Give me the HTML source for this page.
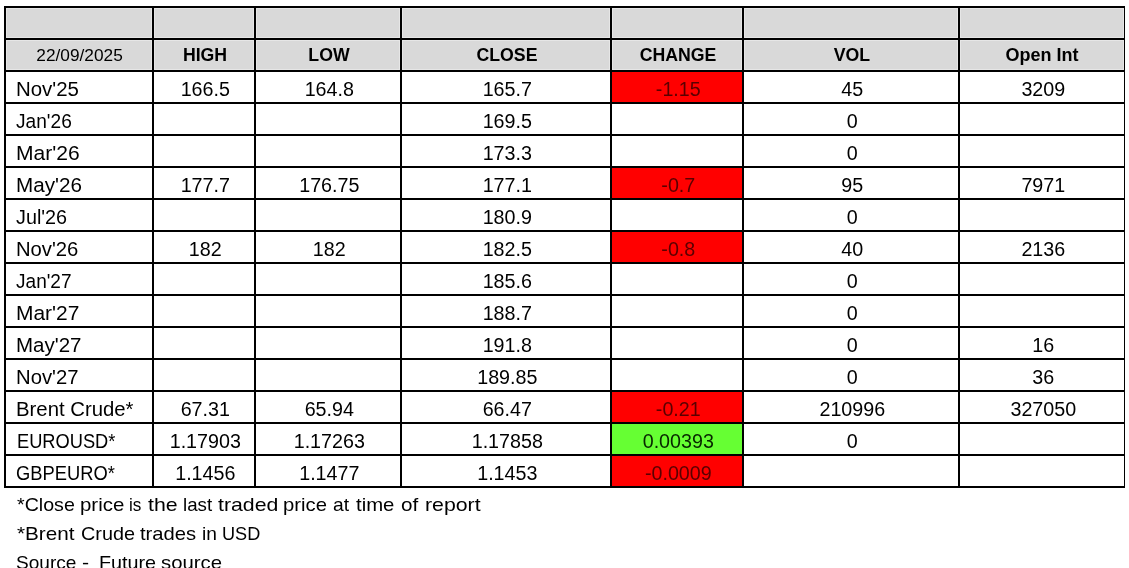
<!DOCTYPE html>
<html><head><meta charset="utf-8"><title>Prices</title>
<style>
html,body{margin:0;padding:0;background:#fff;}
body{width:1129px;height:568px;position:relative;overflow:hidden;will-change:transform;font-family:"Liberation Sans",sans-serif;color:#000;}
.l{position:absolute;background:#000;}
.g{position:absolute;background:#d9d9d9;}
.f{position:absolute;}
.c{position:absolute;height:30px;line-height:30px;text-align:center;white-space:nowrap;font-size:19.7px;}
.c span{display:inline-block;position:relative;}
.k{text-align:left;}
.h{font-weight:bold;font-size:17.7px;}
.n{position:absolute;left:0;white-space:nowrap;font-size:19px;font-kerning:none;line-height:29px;height:29px;}
.n span{position:absolute;top:0;display:block;transform-origin:0 50%;}
</style></head><body>
<div class="g" style="left:4px;top:6px;width:1121px;height:66px"></div>
<div class="f" style="left:6px;top:8px;width:1118px;height:1px;background:#e6e6e6"></div>
<div class="f" style="left:6px;top:37px;width:1118px;height:4px;background:#e6e6e6"></div>
<div class="f" style="left:6px;top:69px;width:1118px;height:1px;background:#e6e6e6"></div>
<div class="f" style="left:6px;top:8px;width:1px;height:62px;background:#e6e6e6"></div>
<div class="f" style="left:151px;top:8px;width:4px;height:62px;background:#e6e6e6"></div>
<div class="f" style="left:253px;top:8px;width:4px;height:62px;background:#e6e6e6"></div>
<div class="f" style="left:399px;top:8px;width:4px;height:62px;background:#e6e6e6"></div>
<div class="f" style="left:609px;top:8px;width:4px;height:62px;background:#e6e6e6"></div>
<div class="f" style="left:741px;top:8px;width:4px;height:62px;background:#e6e6e6"></div>
<div class="f" style="left:957px;top:8px;width:4px;height:62px;background:#e6e6e6"></div>
<div class="f" style="left:1123px;top:8px;width:1px;height:62px;background:#e6e6e6"></div>
<div class="f" style="left:612px;top:72px;width:130px;height:30px;background:#ff0000"></div>
<div class="f" style="left:612px;top:168px;width:130px;height:30px;background:#ff0000"></div>
<div class="f" style="left:612px;top:232px;width:130px;height:30px;background:#ff0000"></div>
<div class="f" style="left:612px;top:392px;width:130px;height:30px;background:#ff0000"></div>
<div class="f" style="left:612px;top:424px;width:130px;height:30px;background:#66ff33"></div>
<div class="f" style="left:612px;top:456px;width:130px;height:30px;background:#ff0000"></div>
<div class="l" style="left:4px;top:6px;width:1121px;height:2px"></div>
<div class="l" style="left:4px;top:38px;width:1121px;height:2px"></div>
<div class="l" style="left:4px;top:70px;width:1121px;height:2px"></div>
<div class="l" style="left:4px;top:102px;width:1121px;height:2px"></div>
<div class="l" style="left:4px;top:134px;width:1121px;height:2px"></div>
<div class="l" style="left:4px;top:166px;width:1121px;height:2px"></div>
<div class="l" style="left:4px;top:198px;width:1121px;height:2px"></div>
<div class="l" style="left:4px;top:230px;width:1121px;height:2px"></div>
<div class="l" style="left:4px;top:262px;width:1121px;height:2px"></div>
<div class="l" style="left:4px;top:294px;width:1121px;height:2px"></div>
<div class="l" style="left:4px;top:326px;width:1121px;height:2px"></div>
<div class="l" style="left:4px;top:358px;width:1121px;height:2px"></div>
<div class="l" style="left:4px;top:390px;width:1121px;height:2px"></div>
<div class="l" style="left:4px;top:422px;width:1121px;height:2px"></div>
<div class="l" style="left:4px;top:454px;width:1121px;height:2px"></div>
<div class="l" style="left:4px;top:486px;width:1121px;height:2px"></div>
<div class="l" style="left:4px;top:6px;width:2px;height:482px"></div>
<div class="l" style="left:152px;top:6px;width:2px;height:482px"></div>
<div class="l" style="left:254px;top:6px;width:2px;height:482px"></div>
<div class="l" style="left:400px;top:6px;width:2px;height:482px"></div>
<div class="l" style="left:610px;top:6px;width:2px;height:482px"></div>
<div class="l" style="left:742px;top:6px;width:2px;height:482px"></div>
<div class="l" style="left:958px;top:6px;width:2px;height:482px"></div>
<div class="l" style="left:1124px;top:6px;width:1px;height:482px"></div>
<div class="c" style="left:6px;top:40px;width:146px;font-size:15.8px;"><span style="left:0.5px;top:1px;transform:scaleX(1.094);">22/09/2025</span></div>
<div class="c h" style="left:154px;top:40px;width:100px;"><span style="left:1px;top:0px;">HIGH</span></div>
<div class="c h" style="left:256px;top:40px;width:144px;"><span style="left:1px;top:0px;">LOW</span></div>
<div class="c h" style="left:402px;top:40px;width:208px;"><span style="left:1px;top:0px;">CLOSE</span></div>
<div class="c h" style="left:612px;top:40px;width:130px;"><span style="left:1px;top:0px;">CHANGE</span></div>
<div class="c h" style="left:744px;top:40px;width:214px;"><span style="left:1px;top:0px;">VOL</span></div>
<div class="c h" style="left:960px;top:40px;width:164px;font-size:18px;"><span style="left:0px;top:0px;">Open Int</span></div>
<div class="c k" style="left:6px;top:72px;width:146px;"><span style="left:10px;top:2px;transform-origin:0 50%;transform:scaleX(1.038);">Nov&#39;25</span></div>
<div class="c" style="left:154px;top:72px;width:100px;"><span style="left:1.3px;top:2px;">166.5</span></div>
<div class="c" style="left:256px;top:72px;width:144px;"><span style="left:1.3px;top:2px;">164.8</span></div>
<div class="c" style="left:402px;top:72px;width:208px;"><span style="left:1.3px;top:2px;">165.7</span></div>
<div class="c" style="left:612px;top:72px;width:130px;color:#5a0000;"><span style="left:1.3px;top:2px;">-1.15</span></div>
<div class="c" style="left:744px;top:72px;width:214px;"><span style="left:1.3px;top:2px;">45</span></div>
<div class="c" style="left:960px;top:72px;width:164px;"><span style="left:1.3px;top:2px;">3209</span></div>
<div class="c k" style="left:6px;top:104px;width:146px;"><span style="left:9.5px;top:2px;transform-origin:0 50%;transform:scaleX(0.972);">Jan&#39;26</span></div>
<div class="c" style="left:402px;top:104px;width:208px;"><span style="left:1.3px;top:2px;">169.5</span></div>
<div class="c" style="left:744px;top:104px;width:214px;"><span style="left:1.3px;top:2px;">0</span></div>
<div class="c k" style="left:6px;top:136px;width:146px;"><span style="left:10px;top:2px;transform-origin:0 50%;transform:scaleX(1.069);">Mar&#39;26</span></div>
<div class="c" style="left:402px;top:136px;width:208px;"><span style="left:1.3px;top:2px;">173.3</span></div>
<div class="c" style="left:744px;top:136px;width:214px;"><span style="left:1.3px;top:2px;">0</span></div>
<div class="c k" style="left:6px;top:168px;width:146px;"><span style="left:10px;top:2px;transform-origin:0 50%;transform:scaleX(1.049);">May&#39;26</span></div>
<div class="c" style="left:154px;top:168px;width:100px;"><span style="left:1.3px;top:2px;">177.7</span></div>
<div class="c" style="left:256px;top:168px;width:144px;"><span style="left:1.3px;top:2px;">176.75</span></div>
<div class="c" style="left:402px;top:168px;width:208px;"><span style="left:1.3px;top:2px;">177.1</span></div>
<div class="c" style="left:612px;top:168px;width:130px;color:#5a0000;"><span style="left:1.3px;top:2px;">-0.7</span></div>
<div class="c" style="left:744px;top:168px;width:214px;"><span style="left:1.3px;top:2px;">95</span></div>
<div class="c" style="left:960px;top:168px;width:164px;"><span style="left:1.3px;top:2px;">7971</span></div>
<div class="c k" style="left:6px;top:200px;width:146px;"><span style="left:9.5px;top:2px;transform-origin:0 50%;transform:scaleX(1.004);">Jul&#39;26</span></div>
<div class="c" style="left:402px;top:200px;width:208px;"><span style="left:1.3px;top:2px;">180.9</span></div>
<div class="c" style="left:744px;top:200px;width:214px;"><span style="left:1.3px;top:2px;">0</span></div>
<div class="c k" style="left:6px;top:232px;width:146px;"><span style="left:10px;top:2px;transform-origin:0 50%;transform:scaleX(1.028);">Nov&#39;26</span></div>
<div class="c" style="left:154px;top:232px;width:100px;"><span style="left:1.3px;top:2px;">182</span></div>
<div class="c" style="left:256px;top:232px;width:144px;"><span style="left:1.3px;top:2px;">182</span></div>
<div class="c" style="left:402px;top:232px;width:208px;"><span style="left:1.3px;top:2px;">182.5</span></div>
<div class="c" style="left:612px;top:232px;width:130px;color:#5a0000;"><span style="left:1.3px;top:2px;">-0.8</span></div>
<div class="c" style="left:744px;top:232px;width:214px;"><span style="left:1.3px;top:2px;">40</span></div>
<div class="c" style="left:960px;top:232px;width:164px;"><span style="left:1.3px;top:2px;">2136</span></div>
<div class="c k" style="left:6px;top:264px;width:146px;"><span style="left:9.5px;top:2px;transform-origin:0 50%;transform:scaleX(0.968);">Jan&#39;27</span></div>
<div class="c" style="left:402px;top:264px;width:208px;"><span style="left:1.3px;top:2px;">185.6</span></div>
<div class="c" style="left:744px;top:264px;width:214px;"><span style="left:1.3px;top:2px;">0</span></div>
<div class="c k" style="left:6px;top:296px;width:146px;"><span style="left:10px;top:2px;transform-origin:0 50%;transform:scaleX(1.064);">Mar&#39;27</span></div>
<div class="c" style="left:402px;top:296px;width:208px;"><span style="left:1.3px;top:2px;">188.7</span></div>
<div class="c" style="left:744px;top:296px;width:214px;"><span style="left:1.3px;top:2px;">0</span></div>
<div class="c k" style="left:6px;top:328px;width:146px;"><span style="left:10px;top:2px;transform-origin:0 50%;transform:scaleX(1.041);">May&#39;27</span></div>
<div class="c" style="left:402px;top:328px;width:208px;"><span style="left:1.3px;top:2px;">191.8</span></div>
<div class="c" style="left:744px;top:328px;width:214px;"><span style="left:1.3px;top:2px;">0</span></div>
<div class="c" style="left:960px;top:328px;width:164px;"><span style="left:1.3px;top:2px;">16</span></div>
<div class="c k" style="left:6px;top:360px;width:146px;"><span style="left:10px;top:2px;transform-origin:0 50%;transform:scaleX(1.029);">Nov&#39;27</span></div>
<div class="c" style="left:402px;top:360px;width:208px;"><span style="left:1.3px;top:2px;">189.85</span></div>
<div class="c" style="left:744px;top:360px;width:214px;"><span style="left:1.3px;top:2px;">0</span></div>
<div class="c" style="left:960px;top:360px;width:164px;"><span style="left:1.3px;top:2px;">36</span></div>
<div class="c k" style="left:6px;top:392px;width:146px;"><span style="left:10.3px;top:2px;transform-origin:0 50%;transform:scaleX(1.0326);">Brent Crude*</span></div>
<div class="c" style="left:154px;top:392px;width:100px;"><span style="left:1.3px;top:2px;">67.31</span></div>
<div class="c" style="left:256px;top:392px;width:144px;"><span style="left:1.3px;top:2px;">65.94</span></div>
<div class="c" style="left:402px;top:392px;width:208px;"><span style="left:1.3px;top:2px;">66.47</span></div>
<div class="c" style="left:612px;top:392px;width:130px;color:#5a0000;"><span style="left:1.3px;top:2px;">-0.21</span></div>
<div class="c" style="left:744px;top:392px;width:214px;"><span style="left:1.3px;top:2px;">210996</span></div>
<div class="c" style="left:960px;top:392px;width:164px;"><span style="left:1.3px;top:2px;">327050</span></div>
<div class="c k" style="left:6px;top:424px;width:146px;"><span style="left:10.6px;top:2px;transform-origin:0 50%;transform:scaleX(0.9274);">EUROUSD*</span></div>
<div class="c" style="left:154px;top:424px;width:100px;"><span style="left:1.3px;top:2px;">1.17903</span></div>
<div class="c" style="left:256px;top:424px;width:144px;"><span style="left:1.3px;top:2px;">1.17263</span></div>
<div class="c" style="left:402px;top:424px;width:208px;"><span style="left:1.3px;top:2px;">1.17858</span></div>
<div class="c" style="left:612px;top:424px;width:130px;color:#082800;"><span style="left:1.3px;top:2px;">0.00393</span></div>
<div class="c" style="left:744px;top:424px;width:214px;"><span style="left:1.3px;top:2px;">0</span></div>
<div class="c k" style="left:6px;top:456px;width:146px;"><span style="left:10.2px;top:2px;transform-origin:0 50%;transform:scaleX(0.9308);">GBPEURO*</span></div>
<div class="c" style="left:154px;top:456px;width:100px;"><span style="left:1.3px;top:2px;">1.1456</span></div>
<div class="c" style="left:256px;top:456px;width:144px;"><span style="left:1.3px;top:2px;">1.1477</span></div>
<div class="c" style="left:402px;top:456px;width:208px;"><span style="left:1.3px;top:2px;">1.1453</span></div>
<div class="c" style="left:612px;top:456px;width:130px;color:#5a0000;"><span style="left:1.3px;top:2px;">-0.0009</span></div>
<div class="n" style="top:490px"><span style="left:17.28px;transform:scaleX(1.0325)">*Close</span><span style="left:79.78px;transform:scaleX(1.0764)">price</span><span style="left:129.21px;transform:scaleX(0.9000)">is</span><span style="left:148.42px;transform:scaleX(1.1200)">the</span><span style="left:182.94px;transform:scaleX(0.9841)">last</span><span style="left:217.91px;transform:scaleX(1.1200)">traded</span><span style="left:283.19px;transform:scaleX(1.0661)">price</span><span style="left:332.88px;transform:scaleX(1.0135)">at</span><span style="left:355.99px;transform:scaleX(1.0701)">time</span><span style="left:401.13px;transform:scaleX(1.0878)">of</span><span style="left:424.68px;transform:scaleX(1.1200)">report</span></div>
<div class="n" style="top:519px"><span style="left:17.07px;transform:scaleX(1.0886)">*Brent</span><span style="left:80.79px;transform:scaleX(1.0433)">Crude</span><span style="left:139.79px;transform:scaleX(1.0630)">trades</span><span style="left:201.62px;transform:scaleX(1.0095)">in</span><span style="left:221.80px;transform:scaleX(0.9539)">USD</span></div>
<div class="n" style="top:548px"><span style="left:16.03px;transform:scaleX(1.0035)">Source</span><span style="left:82.26px;transform:scaleX(1.1200)">-</span><span style="left:98.78px;transform:scaleX(1.0398)">Future</span><span style="left:160.63px;transform:scaleX(1.0691)">source</span></div>
</body></html>
